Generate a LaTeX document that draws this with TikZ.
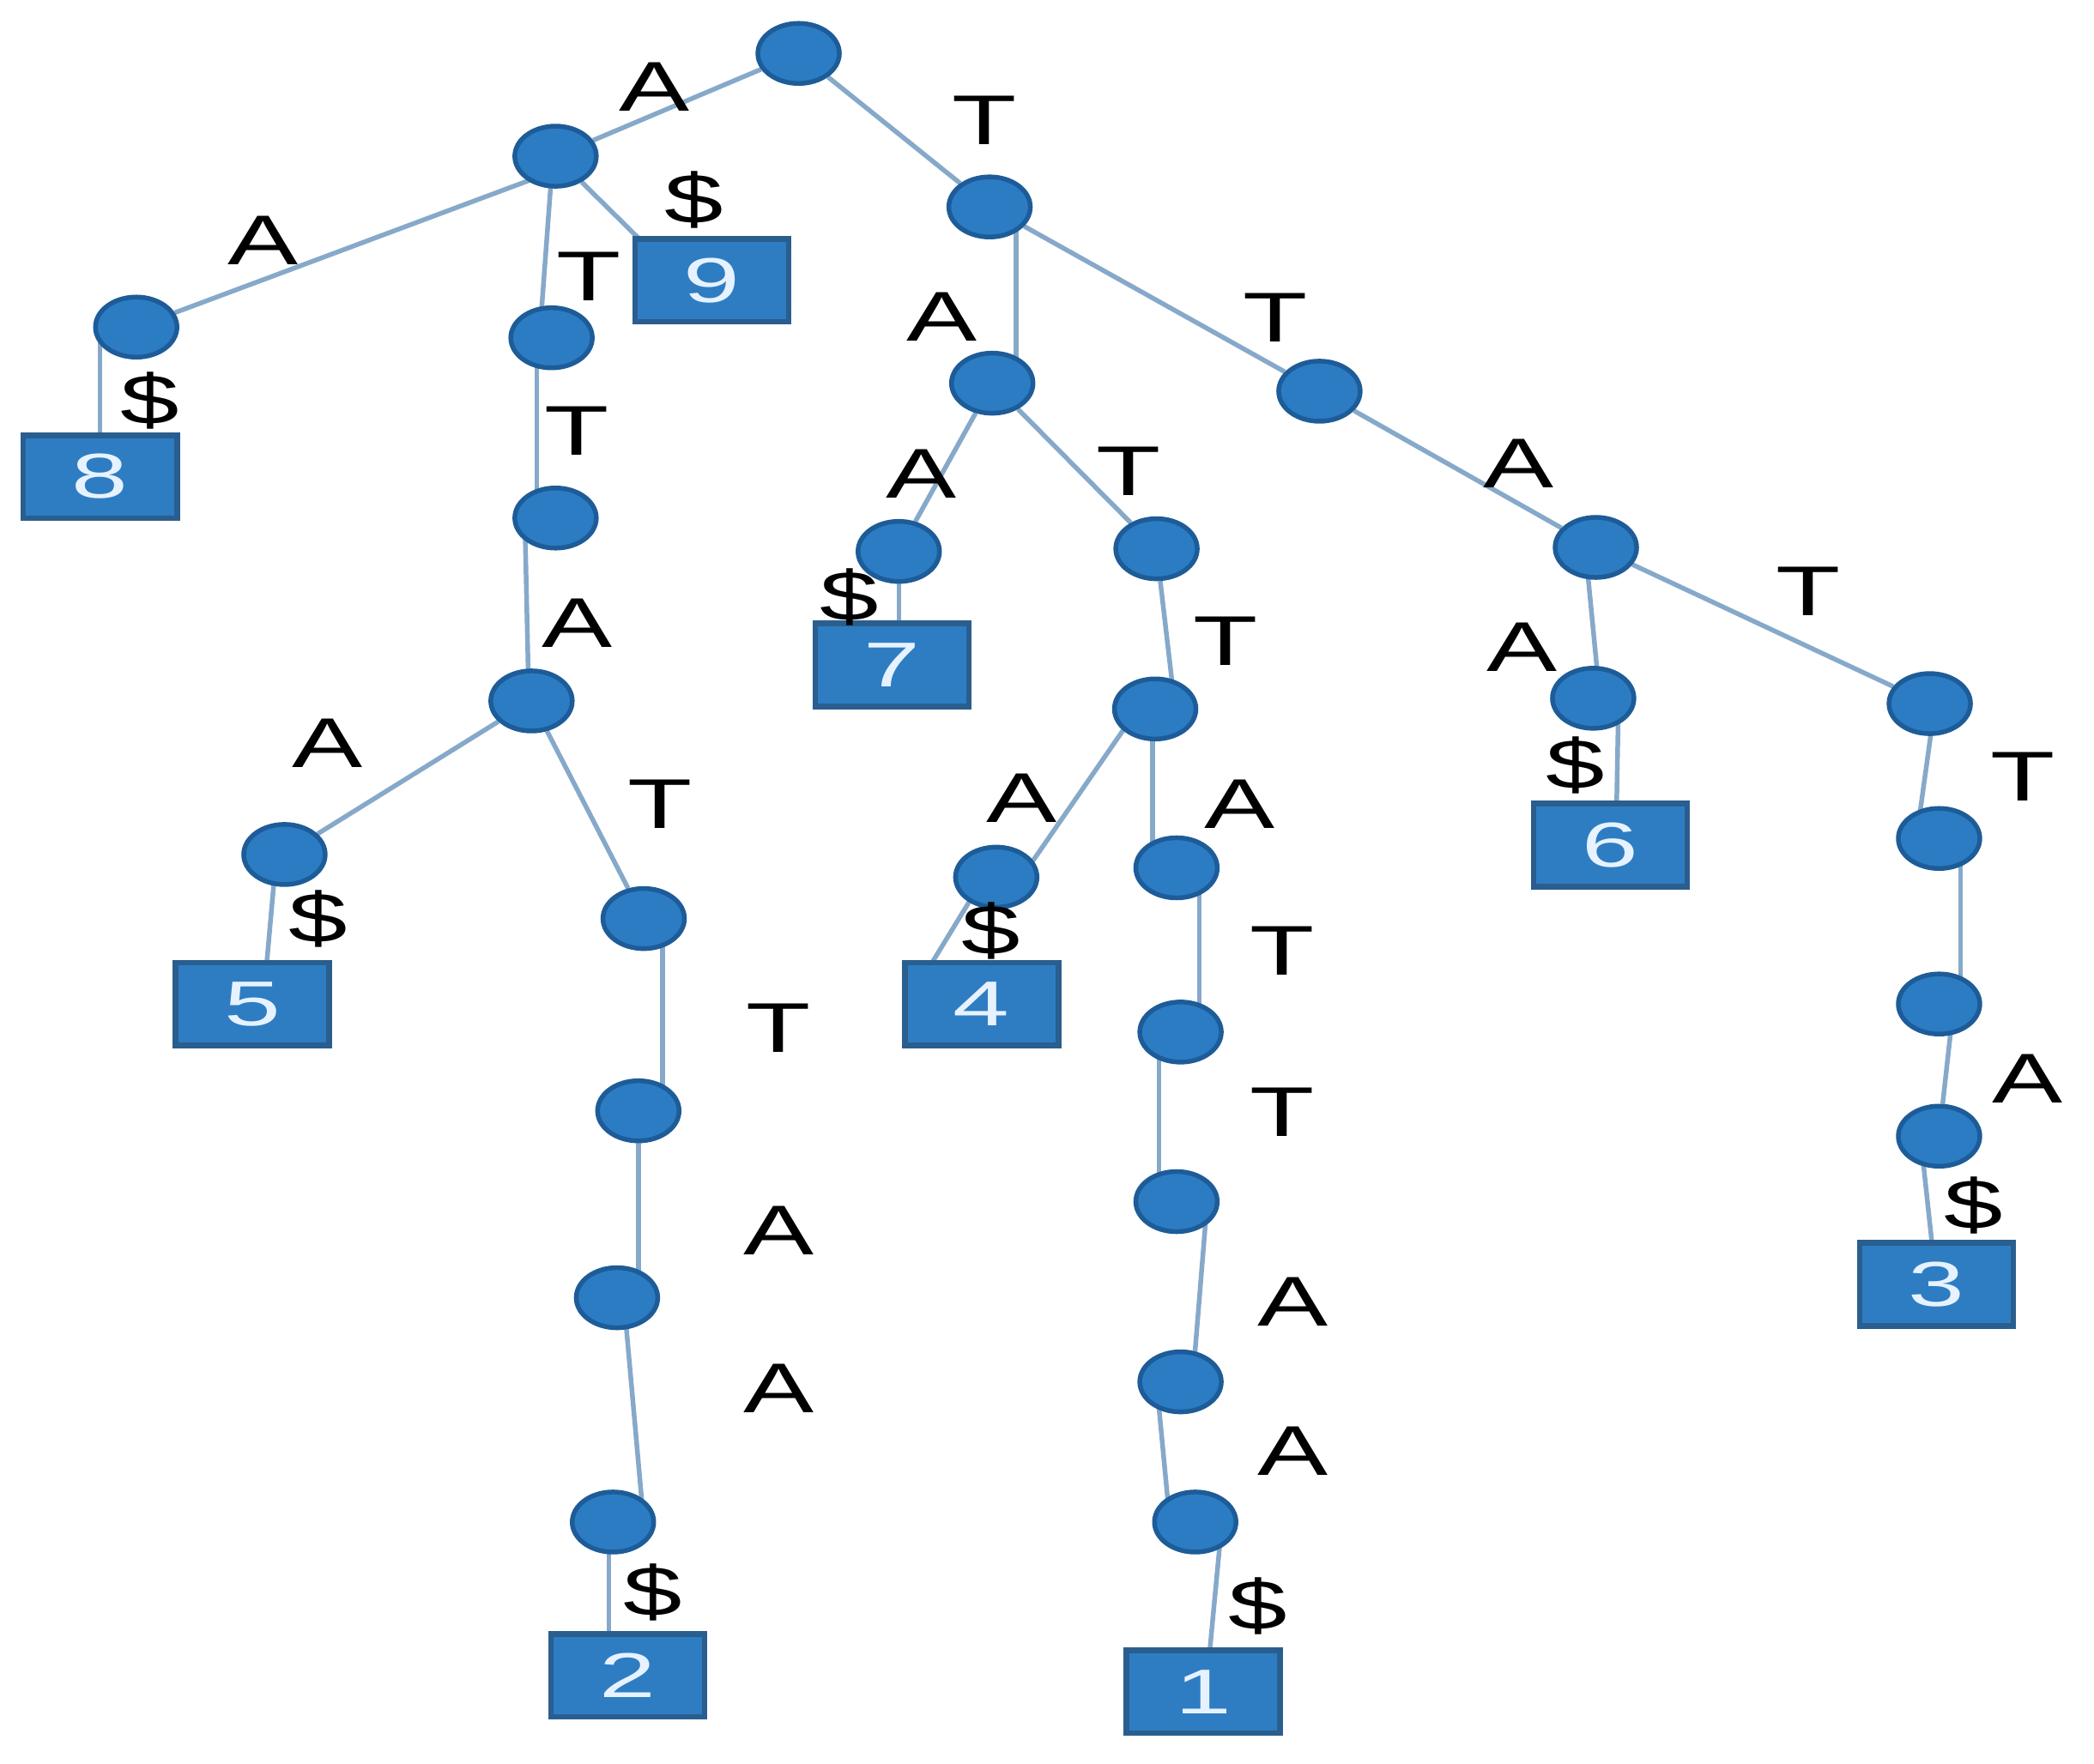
\documentclass[tikz,border=0pt]{standalone}
\usepackage{fontspec}
\setmainfont{Liberation Sans}
\usetikzlibrary{calc,shapes.geometric}
\pgfdeclarelayer{background}
\pgfdeclarelayer{canvas}
\pgfsetlayers{canvas,background,main}
\definecolor{nodefill}{HTML}{2C7CC3}
\definecolor{nodeline}{HTML}{1D5C98}
\definecolor{leaffill}{HTML}{2E7DC2}
\definecolor{leafline}{HTML}{2A5E8E}
\definecolor{edgecol}{HTML}{86A9CA}
\definecolor{digitcol}{HTML}{E6F2FF}
\newcommand\mylab[1]{\scalebox{1.5}[1]{#1}}
\newcommand\mydig[1]{\scalebox{1.6}[1]{#1}}
\tikzset{
  x=0.01cm, y=-0.01cm,
  inode/.style={ellipse, fill=nodefill, draw=nodeline, line width=1pt, minimum width=0.61cm, minimum height=0.45cm, inner sep=0pt},
  leaf/.style={rectangle, fill=leaffill, draw=leafline, line width=1.2pt, minimum width=1.15cm, minimum height=0.62cm, inner sep=0pt, text=digitcol, font=\fontsize{13.5}{15}\selectfont},
  lab/.style={inner sep=0pt, font=\fontsize{15}{18}\selectfont, text=black},
  edge/.style={draw=edgecol, line width=1pt}
}
\begin{document}
\begin{tikzpicture}
\useasboundingbox (0,0) rectangle (1568,1321);
\begin{pgfonlayer}{canvas}
\fill[white] (0,0) rectangle (1568,1321);
\end{pgfonlayer}
% internal nodes
\node[inode] (r) at (598,40) {};
\node[inode] (a) at (416,117) {};
\node[inode] (t) at (741,155) {};
\node[inode] (aa) at (102,245) {};
\node[inode] (at) at (413,253) {};
\node[inode] (att) at (416,388) {};
\node[inode] (atta) at (398,525) {};
\node[inode] (attaa) at (213,640) {};
\node[inode] (attat) at (482,688) {};
\node[inode] (attatt) at (478,832) {};
\node[inode] (attatta) at (462,972) {};
\node[inode] (attattaa) at (459,1140) {};
\node[inode] (ta) at (743,287) {};
\node[inode] (taa) at (673,413) {};
\node[inode] (tat) at (866,411) {};
\node[inode] (tatt) at (865,531) {};
\node[inode] (tatta) at (746,657) {};
\node[inode] (tattA) at (881,650) {};
\node[inode] (tattat) at (884,773) {};
\node[inode] (tattatt) at (881,900) {};
\node[inode] (tattatta) at (884,1035) {};
\node[inode] (tattattaa) at (895,1140) {};
\node[inode] (tt) at (988,293) {};
\node[inode] (tta) at (1195,410) {};
\node[inode] (ttaa) at (1193,523) {};
\node[inode] (ttat) at (1445,527) {};
\node[inode] (ttatt) at (1452,628) {};
\node[inode] (ttatta) at (1452,752) {};
\node[inode] (ttattaa) at (1452,851) {};
% leaves
\node[leaf] (l9) at (533,210) {\mydig{9}};
\node[leaf] (l8) at (75,357) {\mydig{8}};
\node[leaf] (l5) at (189,752) {\mydig{5}};
\node[leaf] (l2) at (470,1255) {\mydig{2}};
\node[leaf] (l7) at (668,498) {\mydig{7}};
\node[leaf] (l4) at (735,752) {\mydig{4}};
\node[leaf] (l1) at (901,1267) {\mydig{1}};
\node[leaf] (l6) at (1206,633) {\mydig{6}};
\node[leaf] (l3) at (1450,962) {\mydig{3}};
% edges
\begin{pgfonlayer}{background}
\draw[edge] (r) -- (a);
\draw[edge] (r) -- (t);
\draw[edge] (a) -- ($(l9)+(-33,-10)$);
\draw[edge] ($(a)+(-6,13)$) -- (aa);
\draw[edge] ($(a)+(-2,0)$) -- ($(at)+(-9,0)$);
\draw[edge] ($(at)+(-11,0)$) -- ($(att)+(-14,0)$);
\draw[edge] ($(att)+(-23,0)$) -- ($(atta)+(-2,0)$);
\draw[edge] (atta) -- (attaa);
\draw[edge] (atta) -- (attat);
\draw[edge] ($(attaa)+(-6,0)$) -- ($(l5)+(8,0)$);
\draw[edge] ($(attat)+(14,0)$) -- ($(attatt)+(18,0)$);
\draw[edge] (attatt) -- ($(attatta)+(16,0)$);
\draw[edge] ($(attatta)+(5,0)$) -- ($(attattaa)+(23,0)$);
\draw[edge] ($(attattaa)+(-3,0)$) -- ($(l2)+(-14,0)$);
\draw[edge] ($(t)+(20,0)$) -- ($(ta)+(18,0)$);
\draw[edge] (t) -- (tt);
\draw[edge] (ta) -- (taa);
\draw[edge] (ta) -- (tat);
\draw[edge] (taa) -- ($(l7)+(5,0)$);
\draw[edge] (tat) -- ($(tatt)+(15,0)$);
\draw[edge] ($(tatt)+(-13,0)$) -- ($(tatta)+(19,0)$);
\draw[edge] ($(tatt)+(-2,0)$) -- ($(tattA)+(-18,0)$);
\draw[edge] ($(tatta)+(-9,0)$) -- ($(l4)+(-56,0)$);
\draw[edge] ($(tattA)+(17,0)$) -- ($(tattat)+(14,0)$);
\draw[edge] ($(tattat)+(-16,0)$) -- ($(tattatt)+(-13,0)$);
\draw[edge] ($(tattatt)+(23,0)$) -- ($(tattatta)+(9,0)$);
\draw[edge] ($(tattatta)+(-18,0)$) -- ($(tattattaa)+(-19,0)$);
\draw[edge] ($(tattattaa)+(20,0)$) -- ($(l1)+(2,0)$);
\draw[edge] (tt) -- (tta);
\draw[edge] ($(tta)+(-8,0)$) -- ($(ttaa)+(5,0)$);
\draw[edge] (tta) -- (ttat);
\draw[edge] ($(ttaa)+(19,0)$) -- ($(l6)+(4,0)$);
\draw[edge] ($(ttat)+(4,0)$) -- ($(ttatt)+(-17,0)$);
\draw[edge] ($(ttatt)+(16,0)$) -- ($(ttatta)+(16,0)$);
\draw[edge] ($(ttatta)+(11,0)$) -- (ttattaa);
\draw[edge] ($(ttattaa)+(-14,0)$) -- (l3);
\draw[edge] ($(aa)+(-27,0)$) -- (l8);
\end{pgfonlayer}
% labels
\node[lab] (e1) at (490,65) {\mylab{A}};
\node[lab] (e2) at (737,90) {\mylab{T}};
\node[lab] (e3) at (520,150) {\mylab{\$}};
\node[lab] (e4) at (197,180) {\mylab{A}};
\node[lab] (e5) at (441,207) {\mylab{T}};
\node[lab] (e6) at (112,300) {\mylab{\$}};
\node[lab] (e7) at (432,323) {\mylab{T}};
\node[lab] (e8) at (432,467) {\mylab{A}};
\node[lab] (e9) at (245,557) {\mylab{A}};
\node[lab] (e10) at (494,602) {\mylab{T}};
\node[lab] (e11) at (238,688) {\mylab{\$}};
\node[lab] (e12) at (583,770) {\mylab{T}};
\node[lab] (e13) at (583,922) {\mylab{A}};
\node[lab] (e14) at (583,1040) {\mylab{A}};
\node[lab] (e15) at (489,1193) {\mylab{\$}};
\node[lab] (e16) at (705,237) {\mylab{A}};
\node[lab] (e17) at (955,238) {\mylab{T}};
\node[lab] (e18) at (690,355) {\mylab{A}};
\node[lab] (e19) at (845,353) {\mylab{T}};
\node[lab] (e20) at (636,447) {\mylab{\$}};
\node[lab] (e21) at (918,480) {\mylab{T}};
\node[lab] (e22) at (765,598) {\mylab{A}};
\node[lab] (e23) at (928,602) {\mylab{A}};
\node[lab] (e24) at (742,697) {\mylab{\$}};
\node[lab] (e25) at (960,712) {\mylab{T}};
\node[lab] (e26) at (960,833) {\mylab{T}};
\node[lab] (e27) at (968,975) {\mylab{A}};
\node[lab] (e28) at (968,1087) {\mylab{A}};
\node[lab] (e29) at (942,1203) {\mylab{\$}};
\node[lab] (e30) at (1137,347) {\mylab{A}};
\node[lab] (e31) at (1140,485) {\mylab{A}};
\node[lab] (e32) at (1354,443) {\mylab{T}};
\node[lab] (e33) at (1180,573) {\mylab{\$}};
\node[lab] (e34) at (1515,582) {\mylab{T}};
\node[lab] (e35) at (1518,808) {\mylab{A}};
\node[lab] (e36) at (1478,903) {\mylab{\$}};
\end{tikzpicture}
\end{document}
